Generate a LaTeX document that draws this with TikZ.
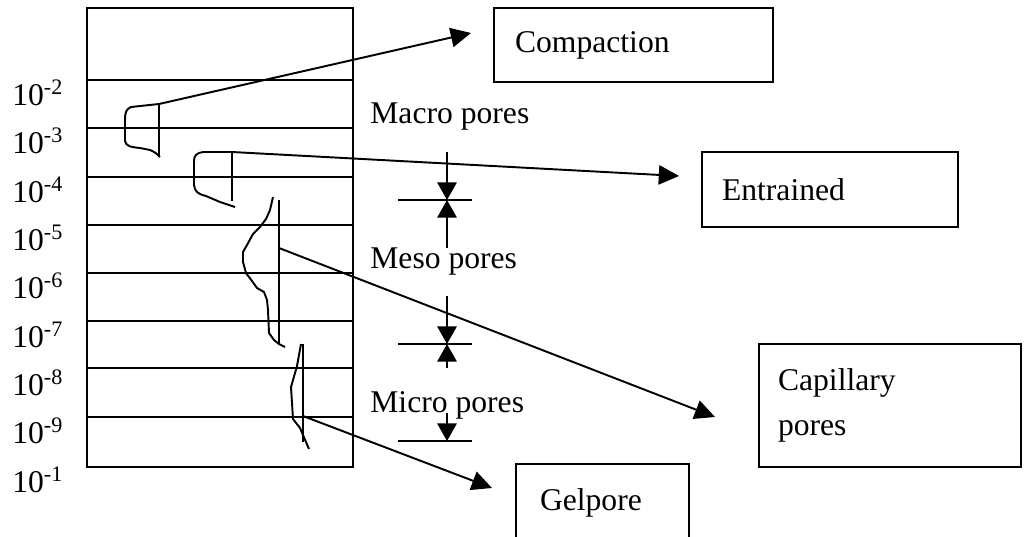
\documentclass[tikz,border=0pt]{standalone}
\usepackage{fontspec}
\setmainfont{Liberation Serif}
\usetikzlibrary{arrows.meta}
\begin{document}
\begin{tikzpicture}[x=0.02cm,y=-0.02cm,
  ln/.style={line width=1.1pt},
  pore/.style={line width=1.1pt, line join=round},
  lead/.style={line width=1.1pt, -{Triangle[length=11.5pt,width=11pt]}},
  gauge/.style={line width=1.1pt, -{Triangle[length=10pt,width=11pt]}},
  txt/.style={font=\fontsize{18}{25.6}\selectfont, inner sep=0pt},
  box/.style={draw, line width=1.1pt, font=\fontsize{18}{25.6}\selectfont,
    align=left, inner ysep=0pt}]
\useasboundingbox (0,0) rectangle (1024,537);
\clip (0,0) rectangle (1024,537);

% scale column
\draw[ln] (87,8) rectangle (353,467);
\foreach \yy in {80,128,177,225,273,321,368,417}
  \draw[ln] (87,\yy) -- (353,\yy);

% decade labels
\foreach \ee [count=\k from 0] in {2,3,4,5,6,7,8,9,1}
  \node[txt, anchor=west] (dec\k) at (12,{93+48.3*\k}) {10\textsuperscript{-\ee}};

% pore size distributions
\coordinate (s1) at (159,104);
\draw[pore] (159,157) -- (s1);
\draw[pore] (s1) -- (131,107) .. controls (126,109) and (125,113) .. (125,120)
  -- (125,141) .. controls (126,146) and (130,147) .. (140,148)
  -- (150,150) .. controls (155,152) and (157,154) .. (160,157);

\coordinate (s2) at (232,152);
\draw[pore] (232,201) -- (s2);
\draw[pore] (s2) -- (203,152) .. controls (197,153) and (194,155) .. (194,161)
  -- (194,185) .. controls (195,192) and (198,194) .. (206,196)
  -- (220,202) -- (235,207);

\coordinate (s3) at (279,248);
\draw[pore] (279,200) -- (279,345);
\draw[pore] (273,197) -- (270,210) -- (266,219) -- (260,227) -- (253,234)
  -- (247,245) -- (243,252) -- (243,262) -- (246,273) -- (252,281)
  -- (257,288) -- (264,292) -- (267,300) -- (268,310) -- (269,333)
  -- (274,340) -- (279,344) -- (285,347);

\coordinate (s4) at (303,416);
\draw[pore] (303,344) -- (303,442);
\draw[pore] (301,344) -- (297,366) -- (291,387) -- (292,403) -- (293,419)
  -- (300,428) -- (309,449);

% size class labels and their limits
\node[txt, anchor=west] (macro) at (370,117) {Macro pores};
\node[txt, anchor=west] (meso) at (370,262) {Meso pores};
\node[txt, anchor=west] (micro) at (370,405) {Micro pores};

\coordinate (g1) at (447,200);
\coordinate (g2) at (447,344);
\coordinate (g3) at (447,441);
\draw[ln] (398,200) -- (472,200);
\draw[ln] (398,344) -- (472,344);
\draw[ln] (398,441) -- (472,441);
\draw[gauge] (447,152) -- (g1);
\draw[gauge] (447,248) -- (g1);
\draw[gauge] (447,296) -- (g2);
\draw[gauge] (447,368) -- (g2);
\draw[gauge] (447,413) -- (g3);

% pore types
\node[box, minimum width=5.58cm, minimum height=1.48cm, inner xsep=0.42cm,
  text width=4.74cm] (comp) at (633.5,45) {Compaction};
\node[box, minimum width=5.12cm, minimum height=1.5cm, inner xsep=0.4cm,
  text width=4.32cm] (entr) at (830,189.5) {Entrained};
\node[box, minimum width=5.24cm, minimum height=2.46cm, inner xsep=0.38cm,
  text width=4.48cm] (capi) at (890,405.5) {Capillary\\pores};
\node[box, minimum width=3.46cm, minimum height=1.56cm, inner xsep=0.48cm,
  text width=2.5cm] (gel) at (602.5,503) {Gelpore};

\coordinate (t1) at (471,33);
\coordinate (t2) at (679,176);
\coordinate (t3) at (715,417);
\coordinate (t4) at (492,488);
\draw[lead] (s1) -- (t1);
\draw[lead] (s2) -- (t2);
\draw[lead] (s3) -- (t3);
\draw[lead] (s4) -- (t4);
\end{tikzpicture}
\end{document}
